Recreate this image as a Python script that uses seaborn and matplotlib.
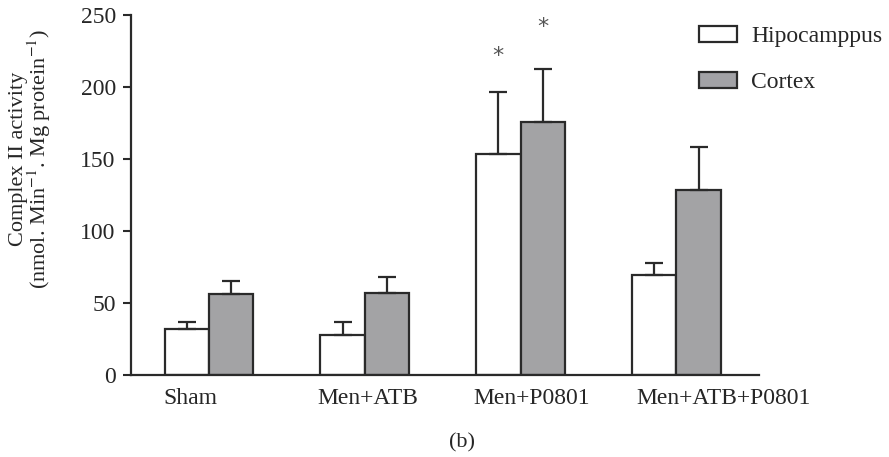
import pandas as pd
import numpy as np
import matplotlib
matplotlib.use('Agg')
import matplotlib.pyplot as plt
import seaborn as sns
from matplotlib.patches import Patch

sns.set_style('white')
plt.rcParams['font.family'] = ['Liberation Serif', 'DejaVu Serif']
plt.rcParams['mathtext.fontset'] = 'stix'

# 데이터
groups = ['Sham', 'Men+ATB', 'Men+P0801', 'Men+ATB+P0801']
regions = ['Hipocamppus', 'Cortex']
hippo_mean = [31.7, 28.0, 153.3, 69.4]
hippo_err = [4.9, 8.6, 43.5, 8.2]
cortex_mean = [56.0, 57.0, 175.7, 128.5]
cortex_err = [9.5, 11.3, 36.8, 29.5]
star_groups = ['Men+P0801']

df = pd.DataFrame({
    'group': groups * 2,
    'region': [regions[0]] * 4 + [regions[1]] * 4,
    'value': hippo_mean + cortex_mean,
    'err': hippo_err + cortex_err,
})

edge = '#2a2a2a'
colors = {'Hipocamppus': 'white', 'Cortex': '#a2a2a6'}

fig = plt.figure(figsize=(8.89, 4.57), dpi=100)
ax = fig.add_axes([0.1474, 0.1794, 0.7064, 0.7878])

sns.barplot(data=df, x='group', y='value', hue='region', order=groups,
            hue_order=regions, palette=colors, edgecolor=edge, linewidth=1.6,
            width=0.57, errorbar=None, legend=False, ax=ax)

# 위쪽 오차막대 + 별표
for cont, reg in zip(ax.containers, regions):
    sub = df[df['region'] == reg].set_index('group').loc[groups]
    for bar, (g, row) in zip(cont, sub.iterrows()):
        cx = bar.get_x() + bar.get_width() / 2
        ax.errorbar(cx, row['value'], yerr=[[0], [row['err']]], fmt='none',
                    ecolor=edge, elinewidth=1.6, capsize=6.5, capthick=1.6)
        if g in star_groups:
            top = row['value'] + row['err']
            off = 25 if reg == 'Hipocamppus' else 29
            ax.text(cx, top + off, '*', ha='center', va='center',
                    fontsize=16, color='#555555', family='DejaVu Sans')

ax.set_xlim(-0.50, 3.53)
ax.set_ylim(0, 250)
ax.set_yticks([0, 50, 100, 150, 200, 250])
ax.set_xticks([-0.12, 1.02, 2.07, 3.30])
ax.set_xticklabels(groups)
ax.tick_params(axis='x', length=0, pad=9, labelsize=17)
ax.tick_params(axis='y', length=6, width=1.5, pad=5, labelsize=17,
               color=edge, left=True)
ax.set_xlabel('')
ax.set_ylabel('Complex II activity\n(nmol. Min$^{-1}$. Mg protein$^{-1}$)',
              fontsize=16, linespacing=0.9)
ax.yaxis.set_label_coords(-0.124, 0.60)
sns.despine(ax=ax, top=True, right=True)
for s in ['left', 'bottom']:
    ax.spines[s].set_color(edge)
    ax.spines[s].set_linewidth(1.6)

handles = [Patch(facecolor=colors[r], edgecolor=edge, linewidth=1.6, label=r)
           for r in regions]
ax.legend(handles=handles, frameon=False, fontsize=17, loc='upper left',
          bbox_to_anchor=(0.89, 0.996), handlelength=1.6, handleheight=0.65,
          labelspacing=1.05, handletextpad=0.6, borderaxespad=0)

fig.text(462 / 889, 1 - 443 / 457, '(b)', ha='center', va='center', fontsize=16)

fig.savefig('out.png', dpi=100)
